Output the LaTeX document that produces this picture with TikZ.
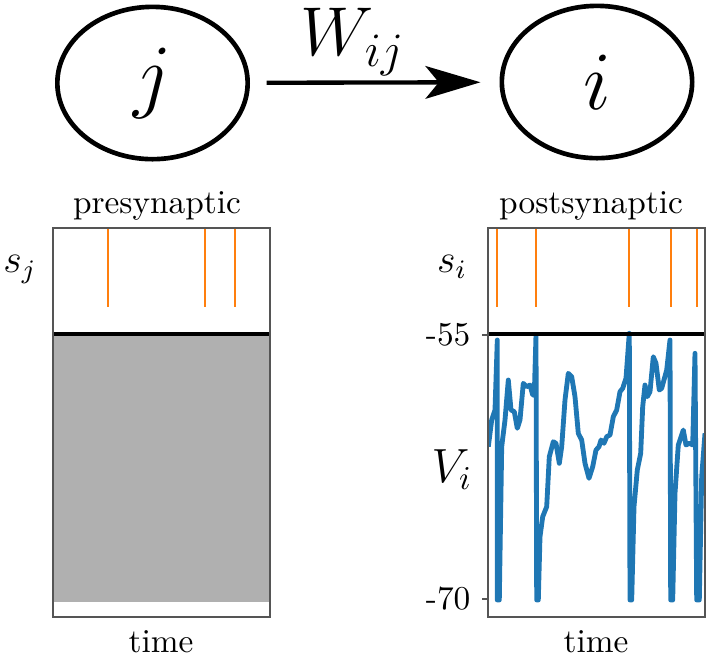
\documentclass[tikz,border=0pt]{standalone}
\usepackage{amsmath,amssymb}
\usepackage{xcolor}
\usepackage{tikz}
\usetikzlibrary{shapes.geometric,arrows.meta}
\definecolor{spikeorange}{HTML}{FF7F0E}
\definecolor{traceblue}{HTML}{1F77B4}
\definecolor{silent}{HTML}{B0B0B0}
\definecolor{axisgray}{HTML}{555555}
\tikzset{
  neuron/.style={ellipse, draw=black, line width=1.4pt, minimum width=57.1pt, minimum height=45.7pt, inner sep=0pt, font=\fontsize{23.5}{27}\selectfont},
  syn/.style={draw=black, line width=1.3pt, -{Stealth[length=16.5pt,width=9.8pt,inset=4pt]}, shorten <=5pt, shorten >=5.7pt},
  wlab/.style={above, inner sep=1.5pt, font=\fontsize{22}{26}\selectfont},
  lab/.style={font=\normalsize, inner sep=0pt},
  frame/.style={draw=axisgray, line width=0.35pt},
  thres/.style={draw=black, line width=1.3pt},
  spike/.style={draw=spikeorange, line width=0.6pt},
  trace/.style={draw=traceblue, line width=1.45pt, line join=round},
  tickmark/.style={draw=axisgray, line width=0.35pt},
}
\begin{document}
\begin{tikzpicture}[x=0.3pt,y=-0.3pt]
  \useasboundingbox (0,0) rectangle (709,657);

  % the two neurons and the synapse
  \node[neuron] (j) at (152.5,83) {$j$};
  \node[neuron] (i) at (597,82) {$i$};
  \draw[syn] (j) -- node[wlab, xshift=-6.6pt] (w) {$W_{ij}$} (i);

  % presynaptic panel
  \fill[silent] (53,334) rectangle (270,602);
  \draw[thres] (53,334) -- (270,334);
  \foreach \t in {108,205,235}
    \draw[spike] (\t,228) -- (\t,307);
  \draw[frame] (53,228) rectangle (270,617);
  \node[lab, anchor=base] (pre) at (157,213) {presynaptic};
  \node[lab, anchor=base, font=\large] (sj) at (20,272) {$s_j$};
  \node[lab, anchor=base] (tpre) at (161,652) {time};

  % postsynaptic panel
  \foreach \t in {497,536,629,671,697}
    \draw[spike] (\t,228) -- (\t,307);
  \begin{scope}
    \clip (488,228) rectangle (705,617);
    \draw[trace] (488.3,446.7) -- (491.7,420) -- (495,410) -- (497.3,340)
      -- (497.3,600) -- (499.3,600) -- (501.7,446.7) -- (505,420) -- (508.3,380)
      -- (511,410) -- (514.3,411.7) -- (517.3,428.3) -- (520,420) -- (523.3,383.3)
      -- (526.7,386.7) -- (530,385) -- (532.7,395) -- (534.3,395) -- (536,335)
      -- (536.7,600) -- (538.3,600) -- (540,536.7) -- (542.7,516.7) -- (546.7,506.7)
      -- (549.3,456.7) -- (553.3,441.7) -- (556,443.3) -- (559.3,463.3) -- (561.7,446.7)
      -- (565,400) -- (568.3,373.3) -- (571.7,376.7) -- (575,396.7) -- (578.3,433.3)
      -- (581.7,440) -- (585,463.3) -- (589,478.3) -- (592.7,466.7) -- (596,450)
      -- (599,446.7) -- (601,440) -- (604,443.3) -- (606.7,436.7) -- (610,435)
      -- (613.3,416.7) -- (616.7,410) -- (620,391.7) -- (622.7,388.3) -- (626,378.3)
      -- (629.3,333.3) -- (630,600) -- (631.7,600) -- (634,506.7) -- (637.3,470)
      -- (640.7,453.3) -- (642.7,406.7) -- (645,385) -- (647.3,396.7) -- (650,391.7)
      -- (653.3,356.7) -- (656,363.3) -- (659.3,390) -- (661.7,388.3) -- (666.7,370)
      -- (670,340) -- (670.7,600) -- (672.7,600) -- (675,493.3) -- (678.3,445)
      -- (683.3,430) -- (686,445) -- (689.3,443.3) -- (692.7,445) -- (695,353.3)
      -- (696.7,600) -- (699.3,600) -- (701.7,476.7) -- (705,433.3);
  \end{scope}
  \draw[thres] (488,334) -- (705,334);
  \draw[frame] (488,228) rectangle (705,617);
  \draw[tickmark] (482,335) -- (488,335);
  \draw[tickmark] (482,599) -- (488,599);
  \node[lab, anchor=east] (v55) at (471,335) {-55};
  \node[lab, anchor=east] (v70) at (471,599) {-70};
  \node[lab, anchor=base, font=\Large] (vi) at (452,482) {$V_i$};
  \node[lab, anchor=base] (post) at (591,213) {postsynaptic};
  \node[lab, anchor=base, font=\large] (si) at (452,272) {$s_i$};
  \node[lab, anchor=base] (tpost) at (596,652) {time};
\end{tikzpicture}
\end{document}
